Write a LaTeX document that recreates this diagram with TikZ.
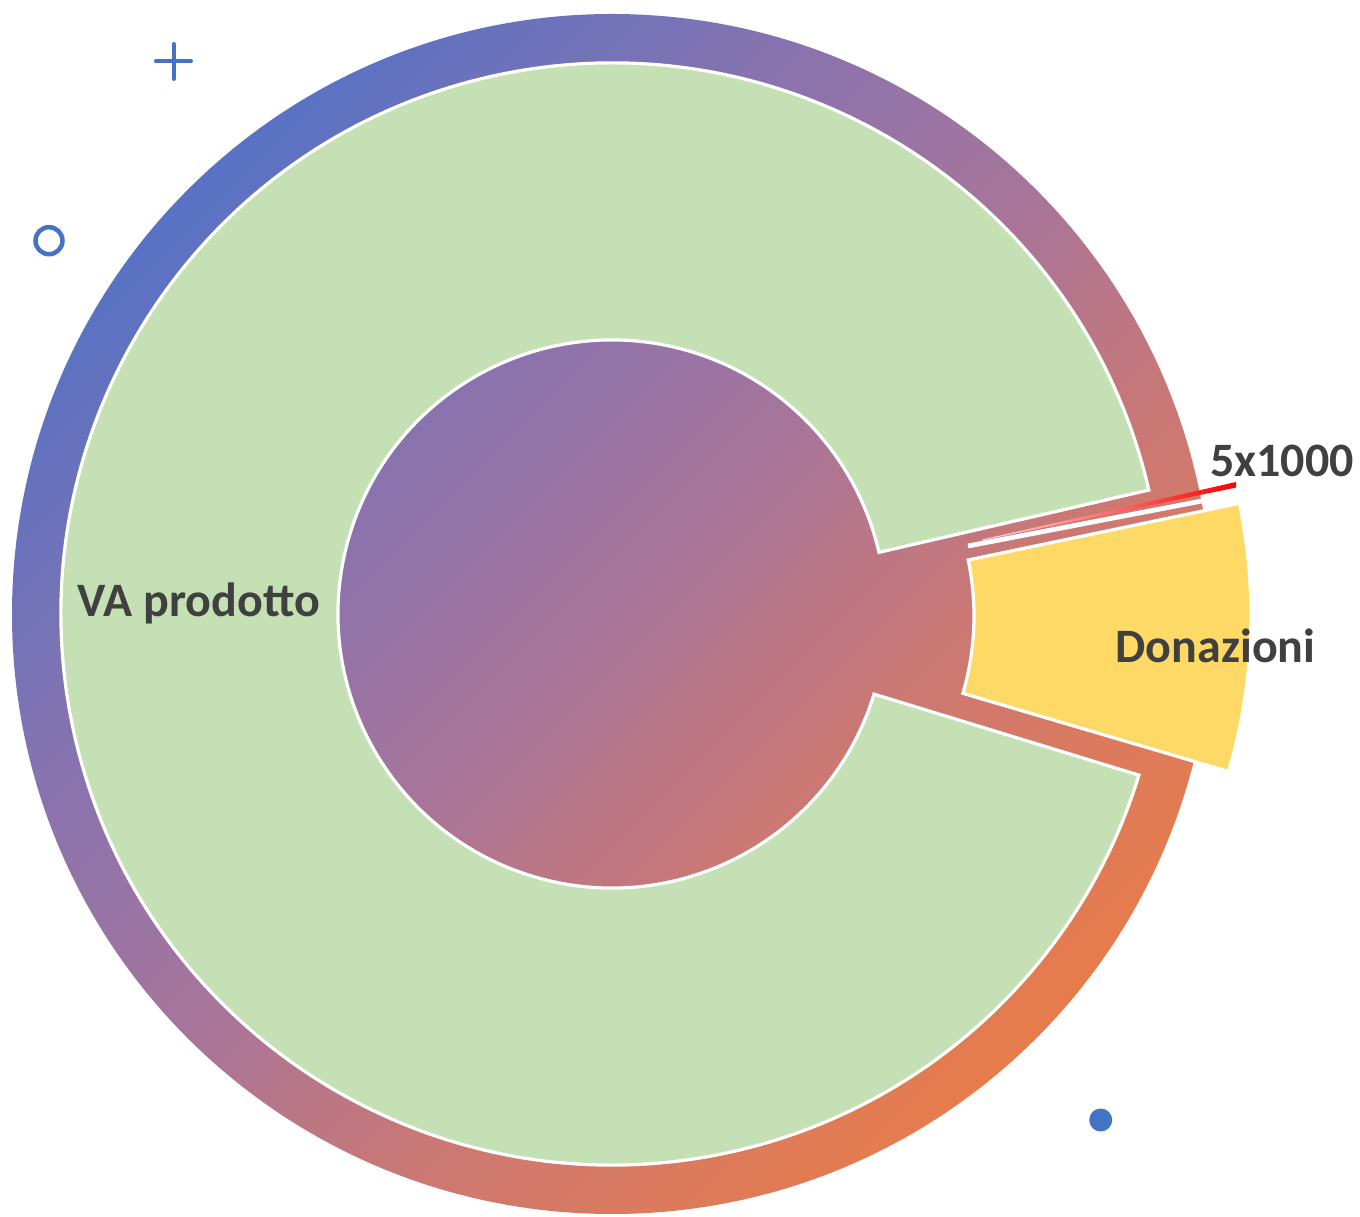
\documentclass[tikz,border=0pt]{standalone}
\usepackage{fontspec}
\setmainfont{Carlito}
\usetikzlibrary{calc}

% palette
\definecolor{gA}{HTML}{5872C4}
\definecolor{gB}{HTML}{8A73AE}
\definecolor{gC}{HTML}{A8759A}
\definecolor{gD}{HTML}{CC7873}
\definecolor{gE}{HTML}{E77C4B}
\definecolor{vagreen}{HTML}{C5E0B4}
\definecolor{donyellow}{HTML}{FFD966}
\definecolor{labelgray}{HTML}{404040}
\definecolor{markblue}{HTML}{4472C4}
\definecolor{fivered}{HTML}{FF0000}

% diagonal blue-to-orange background gradient
\pgfdeclarehorizontalshading{ringgrad}{100bp}{%
  color(0bp)=(gA); color(25bp)=(gA); color(39bp)=(gB); color(50bp)=(gC);
  color(61bp)=(gD); color(75bp)=(gE); color(100bp)=(gE)}

\begin{document}
\begin{tikzpicture}[x=0.5pt,y=0.5pt,
  slice/.style={draw=white, line width=1.6pt, line join=miter},
  lbl/.style={anchor=base, inner sep=0pt, text=labelgray,
              font=\fontsize{24}{28}\selectfont\bfseries},
  marker/.style={draw=markblue, line width=2pt, line cap=round}]
\useasboundingbox (0,0) rectangle (1360,1216);

% centres of the ring and of the pulled-out slices
\coordinate (O) at (612,602);
\coordinate (D) at (700,600);

% background disc
\shade[shading=ringgrad, shading angle=-45] (O) circle[radius=600];

% VA prodotto slice
\draw[slice, fill=vagreen]
  ($(O)+(13:551)$) arc[start angle=13, end angle=343, radius=551]
  -- ($(O)+(343:274)$) arc[start angle=343, end angle=13, radius=274] -- cycle;

% Donazioni slice (exploded)
\draw[slice, fill=donyellow]
  ($(D)+(-16.4:551)$) arc[start angle=-16.4, end angle=11.8, radius=551]
  -- ($(D)+(11.8:274)$) arc[start angle=11.8, end angle=-16.4, radius=274] -- cycle;

% 5x1000 sliver (exploded)
\coordinate (s1) at (968,670);
\coordinate (s2) at (1207,716);
\draw[white, line width=2.4pt] (s1) -- (s2);
\shade[left color=fivered!15, right color=fivered]
  (982,676.5) -- (1236,734) -- (1236,728.5) -- (982,675.5) -- cycle;

% labels
\node[lbl] (va)  at (199,599)    {VA prodotto};
\node[lbl] (don) at (1215.5,553) {Donazioni};
\node[lbl] (cin) at (1282,739)   {5x1000};

% markers
\coordinate (plus) at (173.5,1154.5);
\draw[marker] ($(plus)+(-17.5,0)$) -- ($(plus)+(17.5,0)$);
\draw[marker] ($(plus)+(0,-17.5)$) -- ($(plus)+(0,17.5)$);
\draw[markblue, line width=2.25pt] (49,975.3) circle[radius=13.5];
\fill[markblue] (1100.7,96) circle[radius=11.5];
\end{tikzpicture}
\end{document}
